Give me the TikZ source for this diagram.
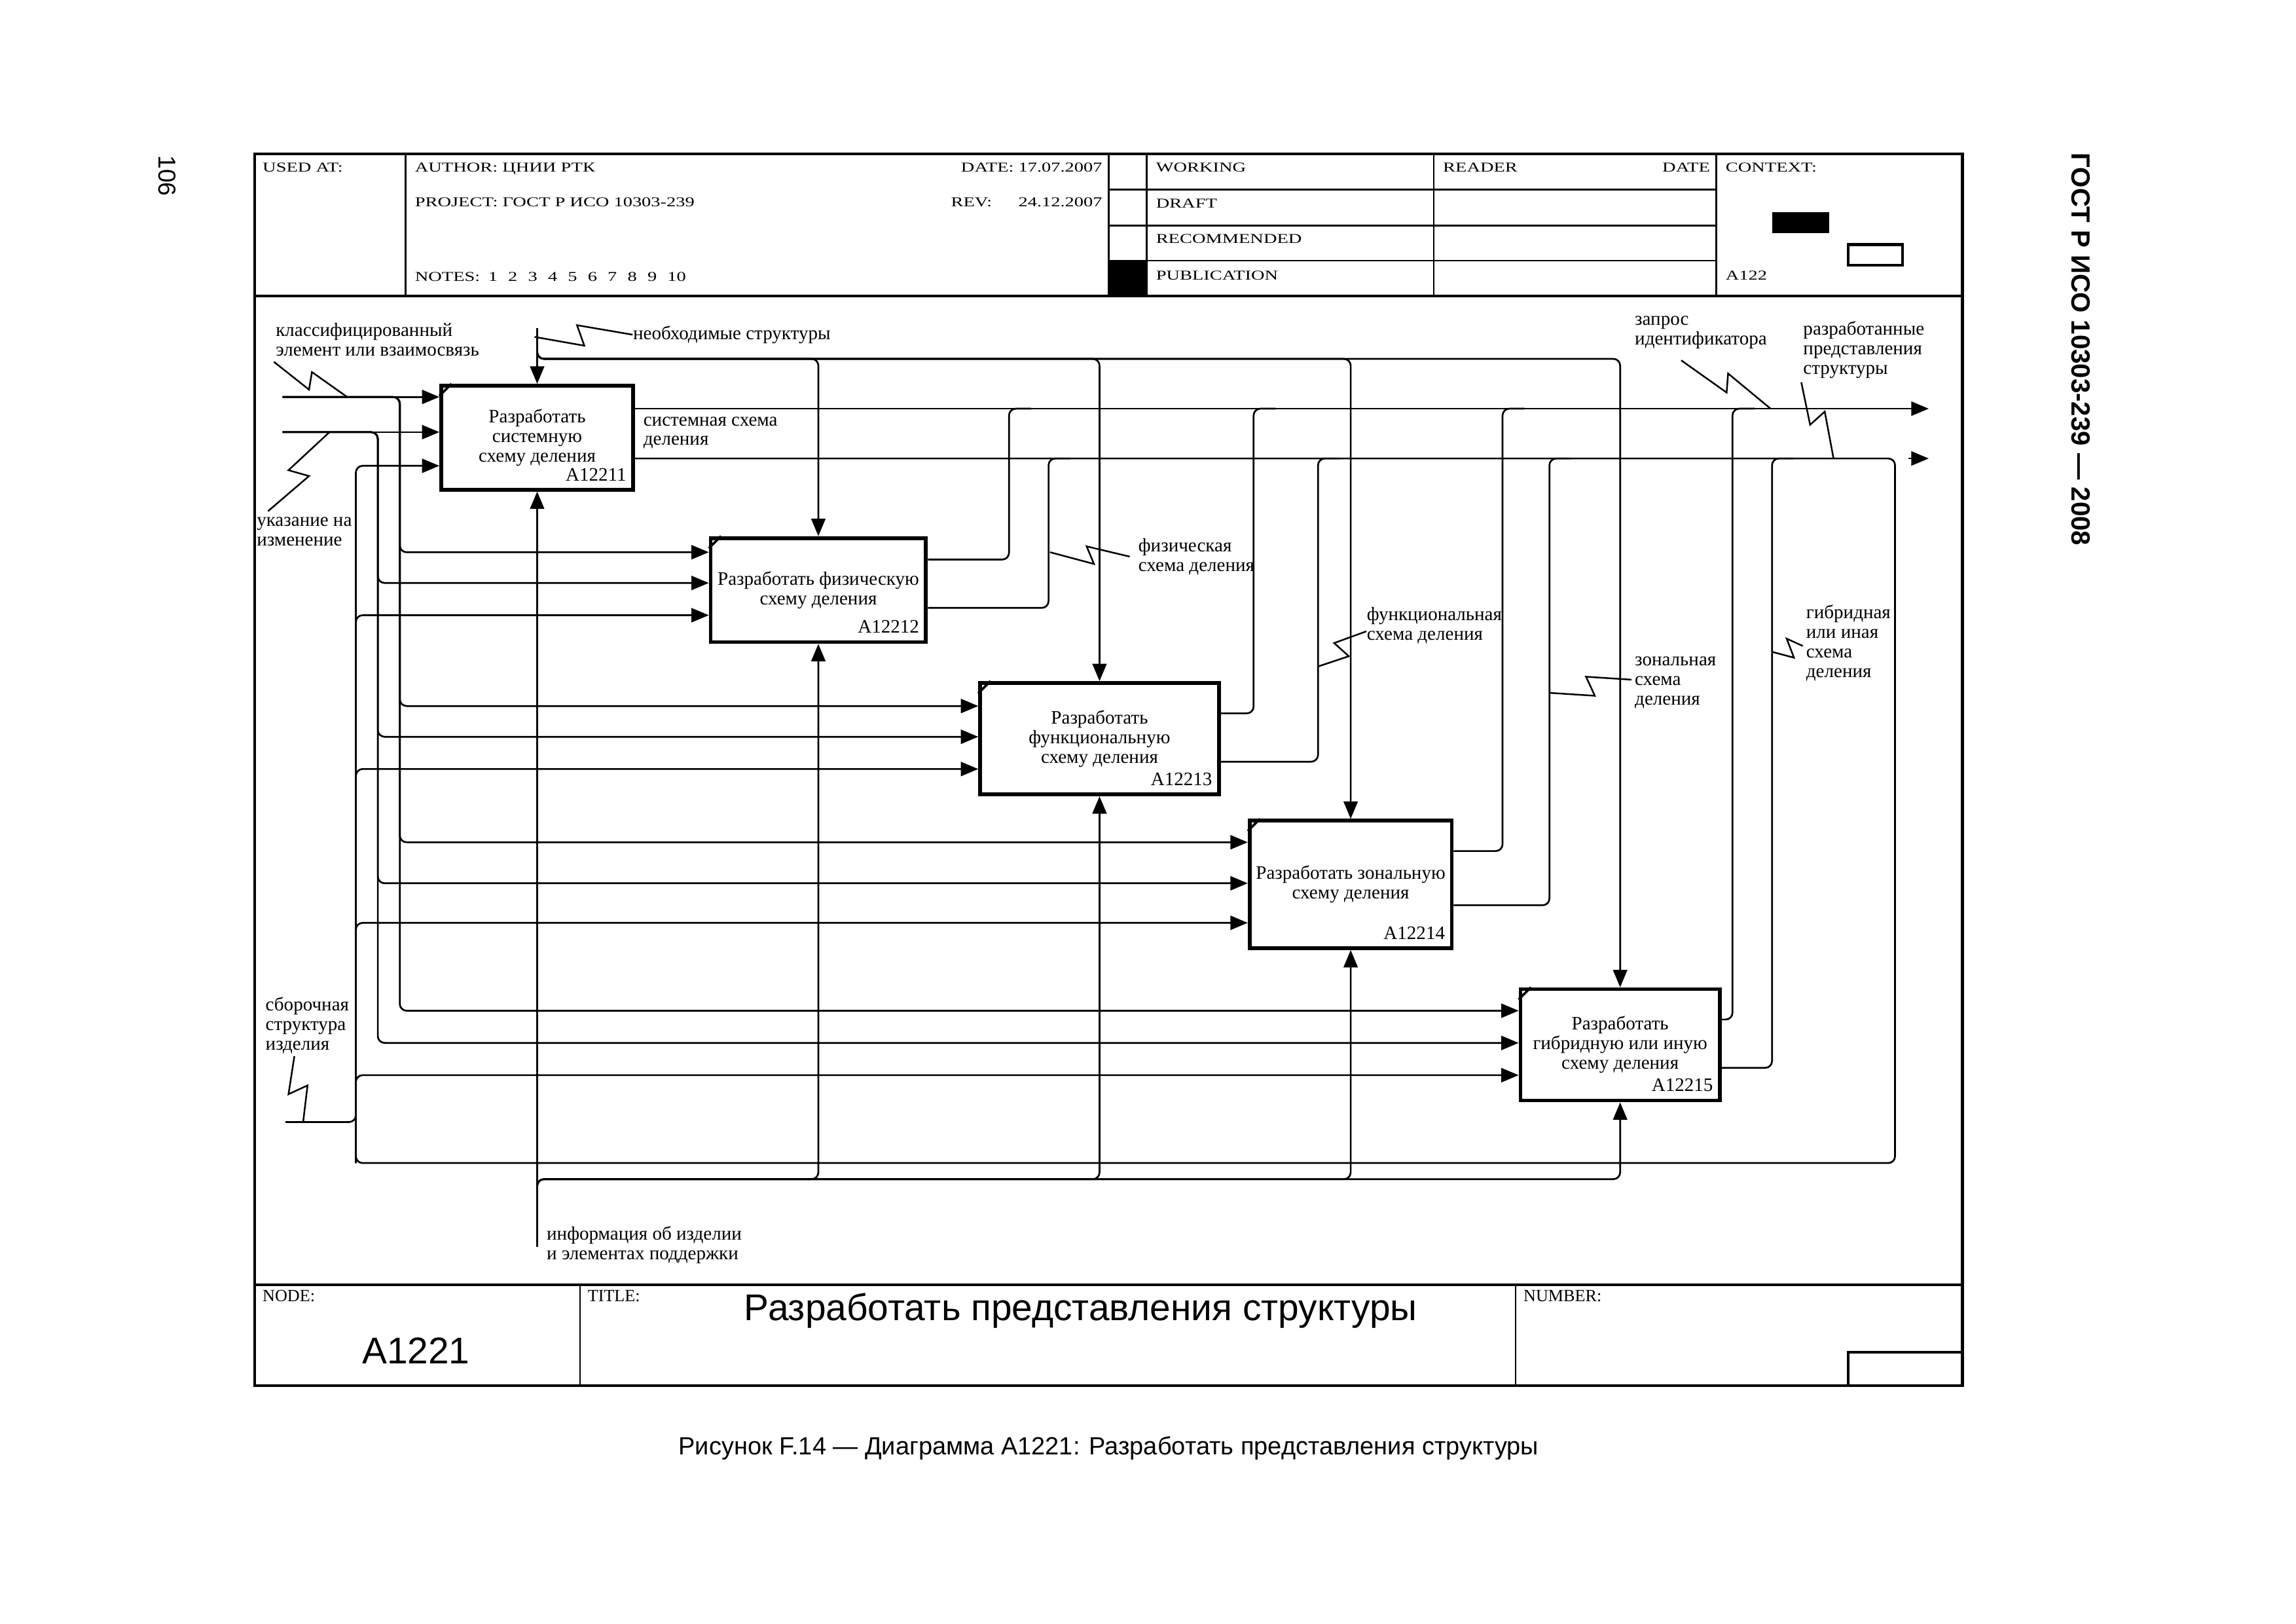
\documentclass[tikz,border=0pt]{standalone}
\usepackage{fontspec}
\setmainfont{Liberation Serif}
\newfontfamily\arialfont{Liberation Sans}
\newfontfamily\hdrfont[FakeStretch=1.37]{Liberation Serif}
\usetikzlibrary{arrows.meta}
\newcommand{\dpx}{0.18943mm}
\newcommand{\notegap}{\hspace{3.9pt}}
\tikzset{
  border/.style={line width=1pt},
  rule/.style={line width=0.6pt},
  box/.style={draw, line width=1.4pt, inner sep=0pt, align=center, anchor=north west, font=\fontsize{7}{7.2}\selectfont},
  boxid/.style={anchor=base east, inner sep=0pt, font=\fontsize{7}{7}\selectfont},
  link/.style={line width=0.65pt, rounded corners=2.5pt},
  arr/.style={-{Triangle[length=6.4pt,width=5.2pt]}},
  lbl/.style={anchor=west, inner sep=0pt, align=left, font=\fontsize{7}{7.2}\selectfont},
  hdr/.style={anchor=base west, inner sep=0pt, font=\hdrfont\fontsize{5}{6}\selectfont},
  ftr/.style={anchor=base west, inner sep=0pt, font=\fontsize{6.3}{7}\selectfont},
  bolt/.style={line width=0.6pt},
}
\begin{document}
\begin{tikzpicture}[x=0.18943mm, y=-0.18943mm]
    \useasboundingbox (0,0) rectangle (1567.8,1108.6);
    % Draw frame.
    \draw[border] (174,105) rectangle (1340,946);
    \draw[border] (174,202) -- (1340,202);
    \draw[border] (174,877) -- (1340,877);
    \draw[rule] (277,105) -- (277,202);
    \draw[rule] (757,105) -- (757,202);
    \draw[rule] (783,105) -- (783,202);
    \draw[rule] (979,105) -- (979,202);
    \draw[rule] (1172,105) -- (1172,202);
    \draw[rule] (757,129.5) -- (1172,129.5);
    \draw[rule] (757,154) -- (1172,154);
    \draw[rule] (757,178) -- (1172,178);
    \fill (757,178) rectangle (783,202);
    \fill (1210,145) rectangle (1249,159);
    \draw[border] (1262,167) rectangle (1299,181);
    \draw[rule] (396,877) -- (396,946);
    \draw[rule] (1035,877) -- (1035,946);
    \draw[border] (1262,946) -- (1262,923) -- (1340,923);
    % Header and footer text.
    \node[hdr] (usedat) at (179,117.5) {USED AT:};
    \node[hdr] (author) at (283,117.5) {AUTHOR: ЦНИИ РТК};
    \node[hdr, anchor=base east] (date) at (753,117.5) {DATE: 17.07.2007};
    \node[hdr] (project) at (283,141) {PROJECT: ГОСТ Р ИСО 10303-239};
    \node[hdr] (rev) at (649,141) {REV:};
    \node[hdr, anchor=base east] (revdate) at (753,141) {24.12.2007};
    \node[hdr] (notes) at (283,192) {NOTES:\hspace{3pt}1\notegap 2\notegap 3\notegap 4\notegap 5\notegap 6\notegap 7\notegap 8\notegap 9\notegap 10};
    \node[hdr] (working) at (789,117.5) {WORKING};
    \node[hdr] (draft) at (789,142) {DRAFT};
    \node[hdr] (recom) at (789,166) {RECOMMENDED};
    \node[hdr] (publ) at (789,191) {PUBLICATION};
    \node[hdr] (reader) at (985,117.5) {READER};
    \node[hdr, anchor=base east] (rdate) at (1168,117.5) {DATE};
    \node[hdr] (context) at (1178,117.5) {CONTEXT:};
    \node[hdr] (ctxnode) at (1178,191) {A122};
    \node[ftr] (nodelbl) at (179,888.5) {NODE:};
    \node[ftr] (titlelbl) at (401,888.5) {TITLE:};
    \node[ftr] (numlbl) at (1040,888.5) {NUMBER:};
    \node[anchor=base, inner sep=0pt, font=\arialfont\fontsize{13.7}{14}\selectfont] (nodeid) at (284,931) {A1221};
    \node[anchor=base, inner sep=0pt, font=\arialfont\fontsize{13.7}{14}\selectfont] (title) at (738,901.5) {Разработать представления структуры};
    \node[anchor=base, inner sep=0pt, font=\arialfont\fontsize{9.15}{10}\selectfont] (caption) at (757,993) {Рисунок F.14 — Диаграмма A1221: Разработать представления структуры};
    \node[rotate=-90, inner sep=0pt, font=\arialfont\fontsize{9}{9}\selectfont] (page) at (114,120) {106};
    \node[rotate=-90, inner sep=0pt, font=\arialfont\bfseries\fontsize{9.7}{9.7}\selectfont] (gost) at (1421,238.5) {ГОСТ Р ИСО 10303-239 — 2008};
    % Draw boxes.
    \node[box, minimum width=131*\dpx, minimum height=71*\dpx] (a12211) at (300,262) {Разработать\\системную\\схему деления};
    \node[box, minimum width=147*\dpx, minimum height=71*\dpx] (a12212) at (484,366) {Разработать физическую\\схему деления};
    \node[box, minimum width=163*\dpx, minimum height=76*\dpx] (a12213) at (668,465) {Разработать\\функциональную\\схему деления};
    \node[box, minimum width=138*\dpx, minimum height=87*\dpx] (a12214) at (852,559) {Разработать зональную\\схему деления};
    \node[box, minimum width=136*\dpx, minimum height=76*\dpx] (a12215) at (1037,674) {Разработать\\гибридную или иную\\схему деления};
    \node[boxid] (id11) at ([xshift=-3pt,yshift=4pt]a12211.south east) {A12211};
    \node[boxid] (id12) at ([xshift=-3pt,yshift=4pt]a12212.south east) {A12212};
    \node[boxid] (id13) at ([xshift=-3pt,yshift=4pt]a12213.south east) {A12213};
    \node[boxid] (id14) at ([xshift=-3pt,yshift=4pt]a12214.south east) {A12214};
    \node[boxid] (id15) at ([xshift=-3pt,yshift=4pt]a12215.south east) {A12215};
    \draw[line width=0.9pt] ([yshift=-4.5pt]a12211.north west) -- ([xshift=4.5pt]a12211.north west);
    \draw[line width=0.9pt] ([yshift=-4.5pt]a12212.north west) -- ([xshift=4.5pt]a12212.north west);
    \draw[line width=0.9pt] ([yshift=-4.5pt]a12213.north west) -- ([xshift=4.5pt]a12213.north west);
    \draw[line width=0.9pt] ([yshift=-4.5pt]a12214.north west) -- ([xshift=4.5pt]a12214.north west);
    \draw[line width=0.9pt] ([yshift=-4.5pt]a12215.north west) -- ([xshift=4.5pt]a12215.north west);
    % Arrow labels.
    \node[lbl] (klass) at (188,232) {классифицированный\\элемент или взаимосвязь};
    \node[lbl] (nstr) at (432,228.5) {необходимые структуры};
    \node[lbl] (ukaz) at (175,363) {указание на\\изменение};
    \node[lbl] (sist) at (439,295.5) {системная схема\\деления};
    \node[lbl] (fiz) at (777,380) {физическая\\схема деления};
    \node[lbl] (func) at (933,427) {функциональная\\схема деления};
    \node[lbl] (zon) at (1116,466) {зональная\\схема\\деления};
    \node[lbl] (gibr) at (1233,439) {гибридная\\или иная\\схема\\деления};
    \node[lbl] (zapr) at (1116,227) {запрос\\идентификатора};
    \node[lbl] (razr) at (1231,239) {разработанные\\представления\\структуры};
    \node[lbl] (sbor) at (181,700) {сборочная\\структура\\изделия};
    \node[lbl] (info) at (373,850) {информация об изделии\\и элементах поддержки};
    % Ends of the arrows.
    \coordinate (in1) at (193,271);
    \coordinate (in2) at (193,295);
    \coordinate (in3) at (195,766);
    \coordinate (ctl) at (a12211.north |- 0,224);
    \coordinate (ctlbus) at (a12211.north |- 0,245);
    \coordinate (mech) at (a12211.south |- 0,851);
    \coordinate (mechbus) at (a12211.south |- 0,805);
    \coordinate (loop) at (243,794);
    \coordinate (out1) at (1317,279);
    \coordinate (out2s) at (1303,313);
    \coordinate (out2) at (1317,313);
    % Inputs.
    \draw[link,arr] (in1) -- (in1 -| a12211.west);
    \draw[link,arr] (in2) -- (in2 -| a12211.west);
    \draw[link,arr] (in1) -| (273,377) -- (a12212.west |- 0,377);
    \draw[link,arr] (in1) -| (273,482) -- (a12213.west |- 0,482);
    \draw[link,arr] (in1) -| (273,575) -- (a12214.west |- 0,575);
    \draw[link,arr] (in1) -| (273,690) -- (a12215.west |- 0,690);
    \draw[link,arr] (in2) -| (258,398) -- (a12212.west |- 0,398);
    \draw[link,arr] (in2) -| (258,503) -- (a12213.west |- 0,503);
    \draw[link,arr] (in2) -| (258,603) -- (a12214.west |- 0,603);
    \draw[link,arr] (in2) -| (258,712) -- (a12215.west |- 0,712);
    \draw[link] (in3) -| (243,745);
    % Feedback loop.
    \draw[link,arr] (a12211.east |- 0,313) -- (1294,313) -- (1294,794) -- (loop) -- (243,318) -- (a12211.west |- 0,318);
    \draw[link,arr] (loop) |- (a12212.west |- 0,420);
    \draw[link,arr] (loop) |- (a12213.west |- 0,525);
    \draw[link,arr] (loop) |- (a12214.west |- 0,630);
    \draw[link,arr] (loop) |- (a12215.west |- 0,734);
    % Controls.
    \draw[link,arr] (ctl) -- (a12211.north);
    \draw[link,arr] (ctl) -- (ctlbus) -| (a12212.north);
    \draw[link,arr] (ctl) -- (ctlbus) -| (a12213.north);
    \draw[link,arr] (ctl) -- (ctlbus) -| (a12214.north);
    \draw[link,arr] (ctl) -- (ctlbus) -| (a12215.north);
    % Mechanisms.
    \draw[link,arr] (mech) -- (a12211.south);
    \draw[link,arr] (mech) -- (mechbus) -| (a12212.south);
    \draw[link,arr] (mech) -- (mechbus) -| (a12213.south);
    \draw[link,arr] (mech) -- (mechbus) -| (a12214.south);
    \draw[link,arr] (mech) -- (mechbus) -| (a12215.south);
    % Outputs.
    \draw[link,arr] (a12211.east |- 0,279) -- (out1);
    \draw[link] (a12212.east |- 0,382) -| (689,279) -- ++(15,0);
    \draw[link] (a12212.east |- 0,415) -| (716,313) -- ++(15,0);
    \draw[link] (a12213.east |- 0,487) -| (856,279) -- ++(15,0);
    \draw[link] (a12213.east |- 0,520) -| (900,313) -- ++(15,0);
    \draw[link] (a12214.east |- 0,581) -| (1026,279) -- ++(15,0);
    \draw[link] (a12214.east |- 0,618) -| (1058,313) -- ++(15,0);
    \draw[link] (a12215.east |- 0,696) -| (1183,279) -- ++(15,0);
    \draw[link] (a12215.east |- 0,729) -| (1210,313) -- ++(15,0);
    \draw[link,arr] (out2s) -- (out2);
    % Label leaders.
    \draw[bolt] (nstr.west) -- (394,222) -- (399,236) -- (365,230);
    \draw[bolt] (187,247) -- (211,266) -- (213,254) -- (237,271);
    \draw[bolt] (183,349) -- (211,325) -- (197,321) -- (225,295);
    \draw[bolt] (717,377) -- (747,385) -- (742,373) -- ([xshift=-3pt]fiz.west);
    \draw[bolt] (900,455) -- (921,448) -- (911,439) -- (933,431);
    \draw[bolt] (1058,473) -- (1089,475) -- (1083,462) -- (1114,464);
    \draw[bolt] (1210,445) -- (1225,449) -- (1220,436) -- (1231,441);
    \draw[bolt] (1148,246) -- (1179,268) -- (1180,255) -- (1209,279);
    \draw[bolt] (1230,261) -- (1236,290) -- (1246,281) -- (1252,313);
    \draw[bolt] (201,721) -- (197,747) -- (210,741) -- (207,766);
\end{tikzpicture}
\end{document}
